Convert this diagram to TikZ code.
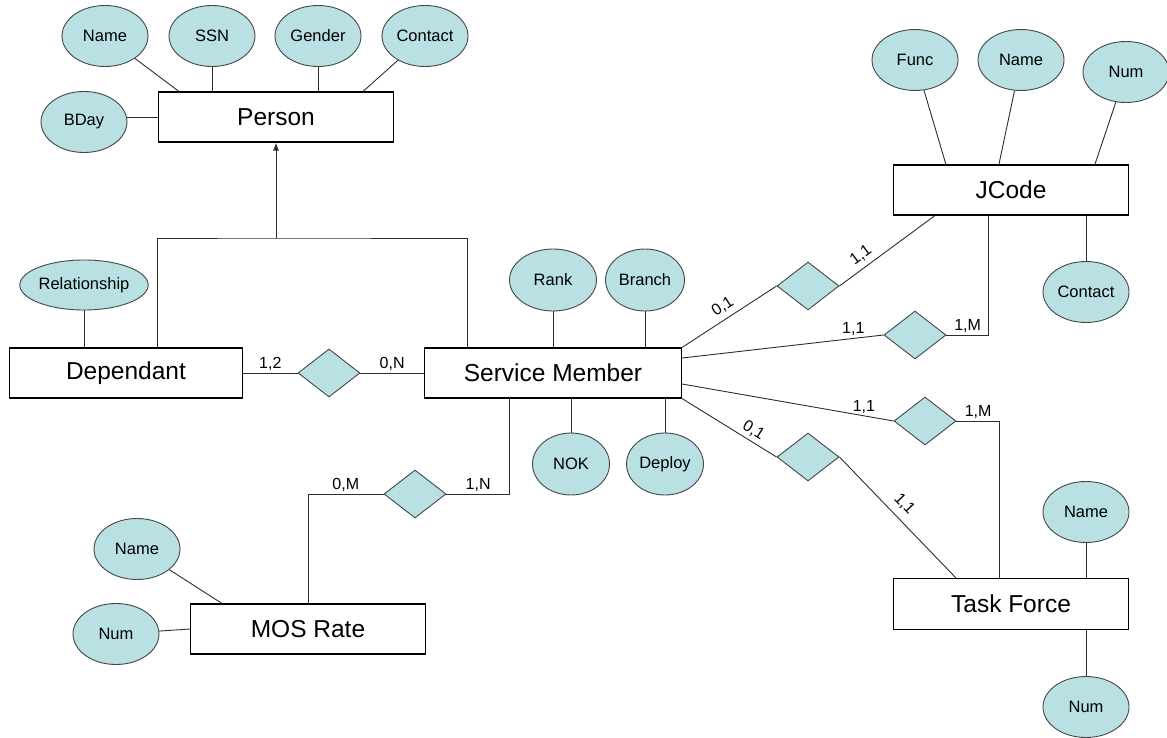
\documentclass[tikz,border=0pt]{standalone}
\usepackage{fontspec}
\setmainfont{Liberation Sans}
\usepackage{xcolor}
\usetikzlibrary{arrows, arrows.meta, shapes.geometric, positioning}

\definecolor{attrfill}{RGB}{185,224,227}
\definecolor{attrline}{RGB}{70,70,70}
\definecolor{linkgray}{RGB}{45,45,45}

\begin{document}
\begin{tikzpicture}[x=1pt, y=-1pt, line width=0.9pt, draw=linkgray,
    entity/.style={draw=black, rectangle, line width=1.2pt, minimum width=235pt, minimum height=50pt, inner sep=0pt, font=\fontsize{24.5}{26}\selectfont},
    attr/.style={ellipse, draw=attrline, fill=attrfill, minimum width=86pt, minimum height=61pt, inner sep=0pt, font=\fontsize{16.5}{18}\selectfont},
    rel/.style={diamond, draw=attrline, fill=attrfill, minimum width=62pt, minimum height=48pt, inner sep=0pt},
    card/.style={font=\fontsize{16}{17}\selectfont, inner sep=2pt}]
      \useasboundingbox (0,0) rectangle (1167,738);

      % entities
      \node[entity] (PER) at (276,117) {Person};
      \node[entity, minimum width=233pt] (DEP) at (126,373) {Dependant};
      \node[entity, minimum width=257pt] (SVC) at (553,373) {Service Member};
      \node[entity] (JC) at (1011,190) {JCode};
      \node[entity] (MOS) at (308,629) {MOS Rate};
      \node[entity, minimum height=51pt] (TF) at (1011,604) {Task Force};

      % attributes
      \node[attr] (PNAME) at (105,36) {Name};
      \node[attr] (PSSN) at (212,36) {SSN};
      \node[attr] (PGEN) at (318,36) {Gender};
      \node[attr] (PCON) at (425,36) {Contact};
      \node[attr] (PBDAY) at (84,122) {BDay};
      \node[attr, minimum width=127pt, minimum height=50pt] (DREL) at (84,285) {Relationship};
      \node[attr, minimum width=87pt, minimum height=62pt] (SRANK) at (553,280) {Rank};
      \node[attr, minimum width=79pt, minimum height=62pt] (SBRANCH) at (645,280) {Branch};
      \node[attr, minimum width=77pt, minimum height=62pt] (SNOK) at (571,464) {NOK};
      \node[attr, minimum width=77pt, minimum height=62pt] (SDEPLOY) at (665,464) {Deploy};
      \node[attr] (JFUNC) at (915,60) {Func};
      \node[attr] (JNAME) at (1021,60) {Name};
      \node[attr] (JNUM) at (1126,72) {Num};
      \node[attr] (JCON) at (1086,292) {Contact};
      \node[attr] (MNAME) at (137,549) {Name};
      \node[attr] (MNUM) at (116,634) {Num};
      \node[attr] (TNAME) at (1086,512) {Name};
      \node[attr] (TNUM) at (1086,707) {Num};

      % relationships
      \node[rel] (RDEP) at (329,373) {};
      \node[rel] (RJA) at (808,286) {};
      \node[rel] (RJB) at (915,335) {};
      \node[rel] (RTA) at (925,421) {};
      \node[rel] (RTB) at (808,457) {};
      \node[rel] (RMOS) at (415,494) {};
      \coordinate (ISA) at (276,238);

      % attribute links
      \draw (PNAME) -- ([xshift=21pt]PER.north west);
      \draw (PSSN) -- (PSSN |- PER.north);
      \draw (PGEN) -- (PGEN |- PER.north);
      \draw (PCON) -- ([xshift=-31pt]PER.north east);
      \draw (PER.west) -- (PER.west -| PBDAY.east);
      \draw (DREL) -- (DREL |- DEP.north);
      \draw (SRANK) -- (SRANK |- SVC.north);
      \draw (SBRANCH) -- (SBRANCH |- SVC.north);
      \draw (SNOK) -- (SNOK |- SVC.south);
      \draw (SDEPLOY) -- (SDEPLOY |- SVC.south);
      \draw (JFUNC) -- ([xshift=53pt]JC.north west);
      \draw (JNAME) -- ([xshift=106pt]JC.north west);
      \draw (JNUM) -- ([xshift=202pt]JC.north west);
      \draw (JCON) -- (JCON |- JC.south);
      \draw (MNAME) -- ([xshift=32pt]MOS.north west);
      \draw (MNUM) -- (MOS.west);
      \draw (TNAME) -- (TNAME |- TF.north);
      \draw (TNUM) -- (TNUM |- TF.south);

      % is-a
      \draw[-{Latex[length=8pt, width=6pt]}] (ISA) -- (PER);
      \draw ([xshift=149pt]DEP.north west) |- (ISA) -| ([xshift=44pt]SVC.north west);

      % relationship links
      \path (DEP) edge node[card, above] {1,2} (RDEP)
            (RDEP) edge node[card, above] {0,N} (SVC)
            (SVC.north east) edge node[card, sloped, above=3pt, pos=.5] {0,1} (RJA.west)
            (RJA.east) edge node[card, sloped, above=3pt, pos=.3] {1,1} ([xshift=42pt]JC.south west)
            ([yshift=15pt]SVC.east) edge node[card, above, pos=.85] {1,1} (RJB.west)
            ([yshift=-11pt]SVC.east) edge node[card, above, pos=.86] {1,1} (RTA.west)
            (SVC.south east) edge node[card, sloped, above=1pt, pos=.7] {0,1} (RTB.west)
            (RTB.east) edge node[card, sloped, above=5pt, pos=.47] {1,1} ([xshift=63pt]TF.north west);
      \draw (RJB.east) -| node[card, above, pos=.25] {1,M} ([xshift=96pt]JC.south west);
      \draw (RTA.east) -| node[card, above, pos=.25] {1,M} ([xshift=107pt]TF.north west);
      \draw ([xshift=86pt]SVC.south west) |- node[card, above, pos=.75] {1,N} (RMOS);
      \draw (RMOS) -| node[card, above, pos=.25] {0,M} (MOS);
\end{tikzpicture}
\end{document}
